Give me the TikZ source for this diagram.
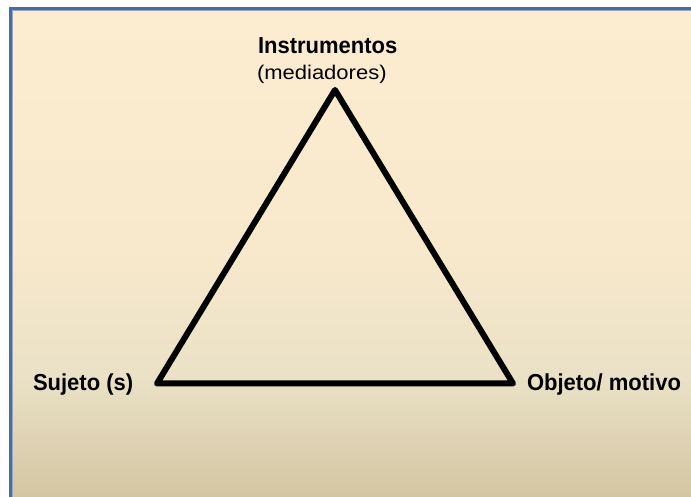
\documentclass[tikz,border=0pt]{standalone}
\usepackage{fontspec}
\setmainfont{Liberation Sans}
\definecolor{framec}{HTML}{4A6C9E}
\definecolor{innerc}{HTML}{9AA8BC}
\definecolor{topc}{HTML}{FDEDD0}
\definecolor{upc}{HTML}{F8E9CC}
\definecolor{midc}{HTML}{EAE1C6}
\definecolor{botc}{HTML}{D3C5A1}
\pgfdeclareverticalshading{bgshade}{100bp}{color(0bp)=(botc); color(26bp)=(botc); color(38bp)=(midc); color(51bp)=(upc); color(75bp)=(topc); color(100bp)=(topc)}
\tikzset{
  lbl/.style={anchor=base west, inner sep=0pt, outer sep=0pt, font=\fontsize{22}{26}\selectfont\bfseries},
  lblr/.style={anchor=base west, inner sep=0pt, outer sep=0pt, font=\fontsize{22}{26}\selectfont},
  tri/.style={line width=6pt, line join=round, line cap=round, draw=black}
}
\begin{document}
\begin{tikzpicture}[x=1pt,y=1pt]
\useasboundingbox (0,0) rectangle (691,497);
% background panel
\shade[shading=bgshade] (10.5,488.5) rectangle (705,-11);
\draw[innerc, line width=1pt] (12.5,486.5) -- (12.5,-11);
\draw[innerc, line width=1pt] (12.5,486.5) -- (705,486.5);
\draw[framec, line width=3pt] (10.5,-11) -- (10.5,488.5) -- (705,488.5);
% labels
\node[lbl] (instr) at (258,443) {\scalebox{1}[1.05]{Instrumentos}};
\node[lblr] (medi) at (257,417.5) {\scalebox{1}[0.9]{(mediadores)}};
\node[lbl] (suj) at (33,106.5) {\scalebox{1}[1.05]{Sujeto (s)}};
\node[lbl] (obj) at (527,106.5) {\scalebox{1}[1.05]{Objeto/ motivo}};
% triangle
\coordinate (A) at (335,407);
\coordinate (B) at (157,113.5);
\coordinate (C) at (513,113.5);
\draw[tri] (A) -- (B) -- (C) -- cycle;
\end{tikzpicture}
\end{document}
